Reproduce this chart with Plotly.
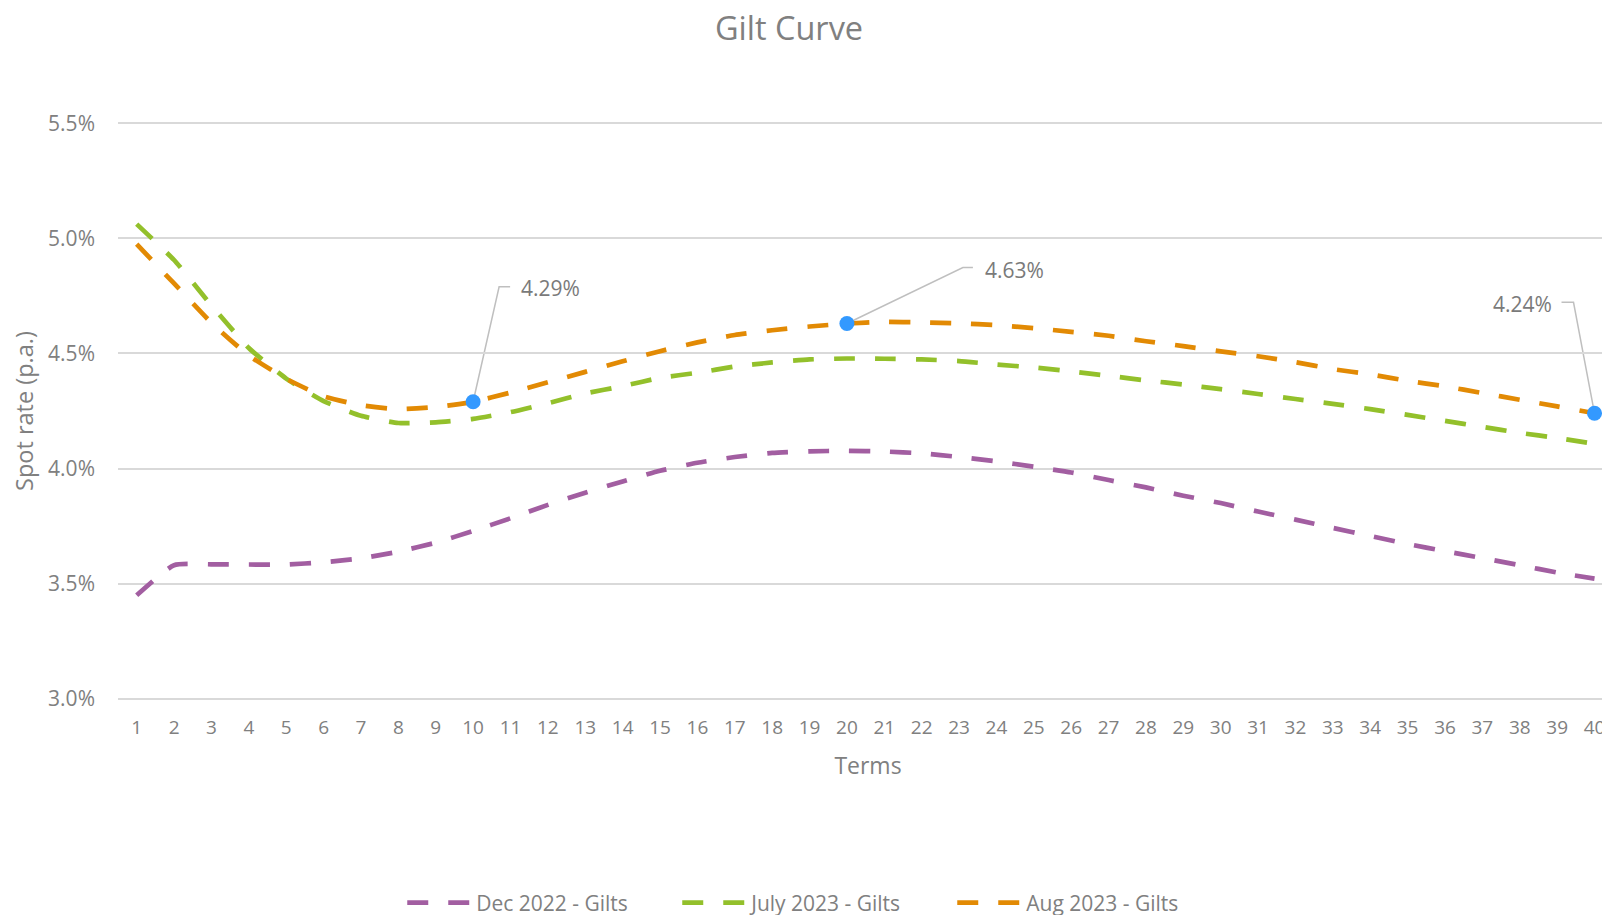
import plotly.graph_objects as go

terms = list(range(1, 41))

dec_2022 = [3.449, 3.580, 3.584, 3.583, 3.583, 3.593, 3.610, 3.639, 3.678, 3.729,
            3.784, 3.842, 3.895, 3.944, 3.990, 4.025, 4.050, 4.068, 4.075, 4.077,
            4.074, 4.066, 4.050, 4.031, 4.008, 3.983, 3.950, 3.918, 3.882, 3.850,
            3.813, 3.778, 3.742, 3.707, 3.672, 3.641, 3.611, 3.580, 3.548, 3.522]

jul_2023 = [5.062, 4.906, 4.709, 4.524, 4.391, 4.293, 4.229, 4.198, 4.201, 4.216,
            4.245, 4.284, 4.326, 4.358, 4.394, 4.416, 4.443, 4.461, 4.474, 4.478,
            4.477, 4.474, 4.467, 4.452, 4.439, 4.422, 4.403, 4.383, 4.365, 4.345,
            4.324, 4.302, 4.281, 4.258, 4.233, 4.207, 4.181, 4.155, 4.133, 4.107]

aug_2023 = [4.975, 4.804, 4.633, 4.491, 4.390, 4.314, 4.275, 4.258, 4.267, 4.290,
            4.330, 4.375, 4.420, 4.466, 4.510, 4.548, 4.580, 4.601, 4.617, 4.630,
            4.637, 4.635, 4.631, 4.623, 4.610, 4.594, 4.577, 4.553, 4.532, 4.509,
            4.488, 4.462, 4.432, 4.409, 4.381, 4.357, 4.328, 4.299, 4.270, 4.240]

series_names = ["Dec 2022 - Gilts", "July 2023 - Gilts", "Aug 2023 - Gilts"]
series_colors = ["#A25EA1", "#93C02B", "#E28A04"]

highlight_terms = [10, 20, 40]
y_ticks = [3.0, 3.5, 4.0, 4.5, 5.0, 5.5]

GRAY = "#808080"
FONT = "Open Sans"

fig = go.Figure()
for name, vals, col in zip(series_names, [dec_2022, jul_2023, aug_2023], series_colors):
    fig.add_trace(go.Scatter(
        x=terms, y=vals, name=name, mode="lines",
        line=dict(color=col, width=4.7, dash="21px,20px", shape="spline", smoothing=0.5),
        hoverinfo="x+y+name",
    ))

hl_vals = [aug_2023[terms.index(t)] for t in highlight_terms]
fig.add_trace(go.Scatter(
    x=highlight_terms, y=hl_vals, mode="markers", showlegend=False, cliponaxis=False,
    marker=dict(color="#3399FF", size=15, line=dict(width=0)),
    hoverinfo="skip",
))

# leader lines (pixel offsets from the data point) and labels
leader_specs = [
    ("M 0 0 L 26 115 L 37 115", 46, 114, "left"),
    ("M 0 0 L 116 56 L 126 56", 136, 54, "left"),
    ("M 0 0 L -21 111 L -33 111", -41, 109, "right"),
]
for t, v, (path, xs, ys, xa) in zip(highlight_terms, hl_vals, leader_specs):
    fig.add_shape(type="path", xref="x", yref="y", xsizemode="pixel", ysizemode="pixel",
                  xanchor=t, yanchor=v, path=path,
                  line=dict(color="#BFBFBF", width=1.5), layer="below")
    fig.add_annotation(x=t, y=v, xref="x", yref="y", text=f"{v:.2f}%", showarrow=False,
                       xshift=xs, yshift=ys, xanchor=xa, yanchor="middle",
                       font=dict(family=FONT, size=21, color="#7A7A7A"))

# the page body adds an 8px offset, so the figure's margins are 8px smaller
W, H = 1610, 915
left, top, bottom = 110, 113, 222
px_per_term = 37.38
x_max = 0.5 + (W - left) / px_per_term
y_pad = 0.01   # keeps the 3.0% / 5.5% gridlines just inside the plot so they are drawn
plot_h = H - top - bottom

fig.update_layout(
    width=W, height=H,
    margin=dict(l=left, r=0, t=top, b=bottom, pad=0, autoexpand=False),
    paper_bgcolor="white", plot_bgcolor="white",
    title=dict(text="Gilt Curve", x=781 / W, xanchor="center", y=1 - 21 / H, yanchor="middle",
               font=dict(family=FONT, size=32.5, color=GRAY)),
    font=dict(family=FONT, color=GRAY),
    showlegend=True,
    legend=dict(orientation="h", x=0.4645, xanchor="center", y=-(895 - (H - bottom)) / plot_h,
                yanchor="middle", font=dict(family=FONT, size=21, color=GRAY),
                entrywidth=196, entrywidthmode="pixels", itemwidth=64, traceorder="normal"),
    xaxis=dict(range=[0.5, x_max], tickmode="array", tickvals=terms, ticktext=[str(t) for t in terms],
               showgrid=False, zeroline=False, showline=False, automargin=False,
               ticks="", tickfont=dict(family=FONT, size=19, color=GRAY), ticklabelstandoff=13,
               title=dict(text="Terms", font=dict(family=FONT, size=23, color=GRAY), standoff=18)),
    yaxis=dict(range=[3.0 - y_pad, 5.5 + y_pad], tickmode="array", tickvals=y_ticks,
               ticktext=[f"{v:.1f}%" for v in y_ticks], automargin=False,
               showgrid=True, gridcolor="#D9D9D9", gridwidth=1.5, zeroline=False, showline=False,
               ticks="", tickfont=dict(family=FONT, size=21, color=GRAY), ticklabelstandoff=22,
               title=dict(text="Spot rate (p.a.)", font=dict(family=FONT, size=23.5, color=GRAY), standoff=10)),
)

fig.write_html("out.html")
